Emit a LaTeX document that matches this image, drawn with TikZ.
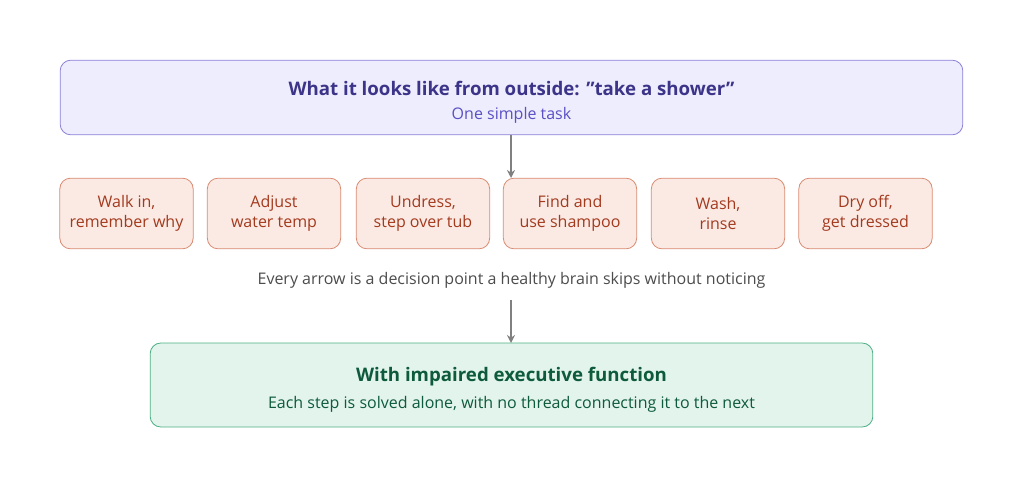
\documentclass[tikz,border=0pt]{standalone}
\usepackage{fontspec}
\setmainfont{Open Sans}
\usetikzlibrary{positioning,arrows.meta}
\definecolor{topfill}{HTML}{EEEDFD}
\definecolor{topline}{HTML}{8B80D8}
\definecolor{toptext}{HTML}{3C3489}
\definecolor{topsub}{HTML}{5A4FC4}
\definecolor{stepfill}{HTML}{FBEAE4}
\definecolor{stepline}{HTML}{D98A70}
\definecolor{steptext}{HTML}{A33A1E}
\definecolor{botfill}{HTML}{E2F4EC}
\definecolor{botline}{HTML}{4DAF85}
\definecolor{bottext}{HTML}{0E5A3C}
\definecolor{arrowgray}{HTML}{808080}
\begin{document}
\begin{tikzpicture}[x=0.75pt, y=-0.75pt,
    box/.style={rounded corners=8pt, draw, line width=0.6pt},
    stepbox/.style={box, fill=stepfill, draw=stepline, text=steptext, minimum width=100pt, minimum height=53pt, align=center, font=\fontsize{12}{15}\selectfont},
    link/.style={draw=arrowgray, line width=1.3pt, -{Stealth[length=6pt,width=6pt]}}]
    \useasboundingbox (0,0) rectangle (1024,482);

    % outside view
    \node[box, fill=topfill, draw=topline, minimum width=677pt, minimum height=56pt] (top) at (511.5,97.5) {};
    \node[text=toptext, font=\fontsize{14}{17}\selectfont\bfseries] (toptitle) at (511.5,88) {What it looks like from outside: "take a shower"};
    \node[text=topsub, font=\fontsize{12}{15}\selectfont] (topsub) at (511.5,115) {One simple task};

    % steps
    \node[stepbox] (s1) at (126.5,213.5) {Walk in,\\remember why};
    \node[stepbox] (s2) at (274,213.5) {Adjust\\water temp};
    \node[stepbox] (s3) at (423,213.5) {Undress,\\step over tub};
    \node[stepbox] (s4) at (570,213.5) {Find and\\use shampoo};
    \node[stepbox] (s5) at (718,213.5) {Wash,\\rinse};
    \node[stepbox] (s6) at (865.5,213.5) {Dry off,\\get dressed};

    \node[text=black!70, font=\fontsize{12}{15}\selectfont] (note) at (511.5,280) {Every arrow is a decision point a healthy brain skips without noticing};

    % inside view
    \node[box, fill=botfill, draw=botline, minimum width=542pt, minimum height=63pt] (bot) at (511.5,385) {};
    \node[text=bottext, font=\fontsize{14}{17}\selectfont\bfseries] (bottitle) at (511.5,377) {With impaired executive function};
    \node[text=bottext, font=\fontsize{12}{15}\selectfont] (botsub) at (511.5,404) {Each step is solved alone, with no thread connecting it to the next};

    % arrows
    \coordinate (a1) at (511,135);
    \coordinate (a2) at (511,178);
    \coordinate (b1) at (511,300);
    \coordinate (b2) at (511,343);
    \draw[link] (a1) -- (a2);
    \draw[link] (b1) -- (b2);
\end{tikzpicture}
\end{document}
